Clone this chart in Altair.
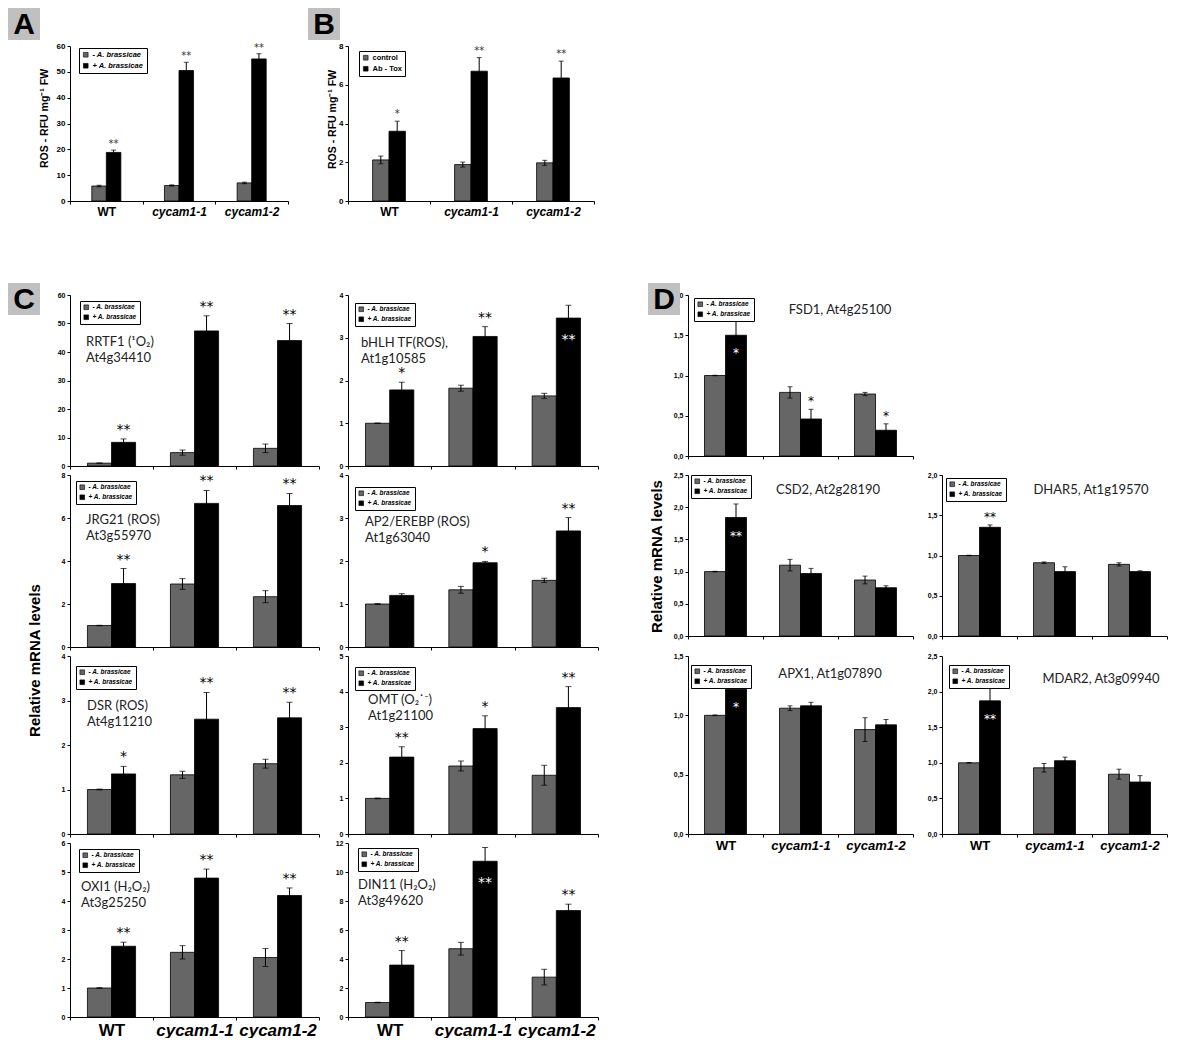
import altair as alt
import pandas as pd

CATS = ["WT", "cycam1-1", "cycam1-2"]
SER_AB = ["- A. brassicae", "+ A. brassicae"]
SER_TOX = ["control", "Ab - Tox"]

# ---------------- data (mean / error) ----------------
A_neg = [5.8, 6.0, 7.0]
A_neg_err = [0.3, 0.25, 0.3]
A_pos = [18.8, 50.5, 55.0]
A_pos_err = [0.9, 3.2, 2.0]
A_star = ["**", "**", "**"]
A_in = [0, 0, 0]

B_neg = [2.12, 1.88, 1.97]
B_neg_err = [0.2, 0.13, 0.13]
B_pos = [3.6, 6.7, 6.35]
B_pos_err = [0.52, 0.7, 0.87]
B_star = ["*", "**", "**"]
B_in = [0, 0, 0]

RRTF1_neg = [1.0, 4.7, 6.2]
RRTF1_neg_err = [0.03, 0.9, 1.5]
RRTF1_pos = [8.3, 47.4, 44.0]
RRTF1_pos_err = [1.2, 5.3, 6.0]
RRTF1_star = ["**", "**", "**"]
RRTF1_in = [0, 0, 0]

BHLH_neg = [1.0, 1.82, 1.64]
BHLH_neg_err = [0.005, 0.07, 0.06]
BHLH_pos = [1.78, 3.03, 3.46]
BHLH_pos_err = [0.18, 0.23, 0.3]
BHLH_star = ["*", "**", "**"]
BHLH_in = [0, 0, 1]

JRG21_neg = [1.0, 2.93, 2.34]
JRG21_neg_err = [0.01, 0.25, 0.28]
JRG21_pos = [2.95, 6.68, 6.58]
JRG21_pos_err = [0.7, 0.6, 0.56]
JRG21_star = ["**", "**", "**"]
JRG21_in = [0, 0, 0]

AP2_neg = [1.0, 1.33, 1.55]
AP2_neg_err = [0.01, 0.08, 0.05]
AP2_pos = [1.2, 1.96, 2.70]
AP2_pos_err = [0.04, 0.03, 0.31]
AP2_star = ["", "*", "**"]
AP2_in = [0, 0, 0]

DSR_neg = [1.0, 1.33, 1.58]
DSR_neg_err = [0.01, 0.08, 0.1]
DSR_pos = [1.35, 2.58, 2.61]
DSR_pos_err = [0.17, 0.6, 0.35]
DSR_star = ["*", "**", "**"]
DSR_in = [0, 0, 0]

OMT_neg = [1.0, 1.91, 1.65]
OMT_neg_err = [0.01, 0.14, 0.28]
OMT_pos = [2.16, 2.96, 3.55]
OMT_pos_err = [0.29, 0.36, 0.59]
OMT_star = ["**", "*", "**"]
OMT_in = [0, 0, 0]

OXI1_neg = [1.0, 2.23, 2.05]
OXI1_neg_err = [0.01, 0.23, 0.31]
OXI1_pos = [2.44, 4.79, 4.19]
OXI1_pos_err = [0.14, 0.31, 0.26]
OXI1_star = ["**", "**", "**"]
OXI1_in = [0, 0, 0]

DIN11_neg = [1.0, 4.71, 2.75]
DIN11_neg_err = [0.02, 0.44, 0.54]
DIN11_pos = [3.58, 10.74, 7.34]
DIN11_pos_err = [1.0, 0.95, 0.44]
DIN11_star = ["**", "**", "**"]
DIN11_in = [0, 1, 0]

FSD1_neg = [1.0, 0.79, 0.77]
FSD1_neg_err = [0.003, 0.07, 0.02]
FSD1_pos = [1.50, 0.46, 0.32]
FSD1_pos_err = [0.2, 0.12, 0.08]
FSD1_star = ["*", "*", "*"]
FSD1_in = [1, 0, 0]

CSD2_neg = [1.0, 1.10, 0.87]
CSD2_neg_err = [0.005, 0.09, 0.06]
CSD2_pos = [1.84, 0.97, 0.75]
CSD2_pos_err = [0.21, 0.08, 0.03]
CSD2_star = ["**", "", ""]
CSD2_in = [1, 0, 0]

DHAR5_neg = [1.0, 0.91, 0.89]
DHAR5_neg_err = [0.003, 0.01, 0.02]
DHAR5_pos = [1.35, 0.80, 0.80]
DHAR5_pos_err = [0.03, 0.06, 0.01]
DHAR5_star = ["**", "", ""]
DHAR5_in = [0, 0, 0]

APX1_neg = [1.0, 1.06, 0.88]
APX1_neg_err = [0.003, 0.02, 0.1]
APX1_pos = [1.22, 1.08, 0.92]
APX1_pos_err = [0.02, 0.03, 0.045]
APX1_star = ["*", "", ""]
APX1_in = [1, 0, 0]

MDAR2_neg = [1.0, 0.93, 0.84]
MDAR2_neg_err = [0.003, 0.06, 0.07]
MDAR2_pos = [1.87, 1.03, 0.73]
MDAR2_pos_err = [0.22, 0.05, 0.09]
MDAR2_star = ["**", "", ""]
MDAR2_in = [1, 0, 0]

GRAY = "#666666"
AXFONT = "Liberation Sans"
NOTEFONT = "Lato"


def frame(neg, neg_err, pos, pos_err, stars, inside, series):
    rows = []
    for i, c in enumerate(CATS):
        rows.append(dict(cat=c, series=series[0], v=neg[i], e=neg_err[i], star="", inside=0))
        rows.append(dict(cat=c, series=series[1], v=pos[i], e=pos_err[i], star=stars[i], inside=inside[i]))
    df = pd.DataFrame(rows)
    df["lo"] = df["v"] - df["e"]
    df["hi"] = df["v"] + df["e"]
    return df


def panel(df, series, *, w, h, ymax, ystep, ratio, leg_xy, leg_size=6.5, leg_style="italic",
          ylab_size=7, comma=False, xlab_size=None, note=None, note_xy=(0, 0), note_size=13,
          note_align="left", note_gap=16, star_size=14, star_gap=9, star_in_gap=22,
          star_color="black", ytitle=None, ytitle_xy=(0, 0), ytitle_size=15, cap=6, box=None):
    nsteps = int(round(ymax / ystep))
    ticks = [round(i * ystep, 3) for i in range(nsteps + 1)]
    band = w / 3.0
    off_range = [band * (1 - ratio) / 2, band * (1 + ratio) / 2]

    xaxis_kw = dict(title=None, tickBand="extent", tickSize=3, tickColor="black",
                    domainColor="black", labelAngle=0)
    if xlab_size:
        xaxis_kw.update(labels=True, labelFont=AXFONT, labelFontSize=xlab_size,
                        labelFontWeight="bold", labelColor="black", labelPadding=2,
                        labelFontStyle={"condition": {"test": "datum.value == 'WT'", "value": "normal"},
                                        "value": "italic"})
    else:
        xaxis_kw.update(labels=False)
    xscale = alt.Scale(domain=CATS, paddingInner=0, paddingOuter=0)
    xaxis = alt.Axis(**xaxis_kw)
    x = alt.X("cat:N", sort=CATS, scale=xscale, axis=xaxis)
    xo = alt.XOffset("series:N", sort=series,
                     scale=alt.Scale(domain=series, range=off_range, paddingOuter=0, paddingInner=0))

    yaxis_kw = dict(values=ticks, grid=False, tickSize=3, tickColor="black", domainColor="black",
                    labelFont=AXFONT, labelFontSize=ylab_size, labelFontWeight="bold",
                    labelColor="black", labelPadding=2, title=None)
    if comma:
        yaxis_kw["labelExpr"] = "replace(format(datum.value, '.1f'), '.', ',')"
    if ytitle:
        yaxis_kw.update(title=ytitle, titleFont=AXFONT, titleFontSize=ytitle_size,
                        titleFontWeight="bold", titleColor="black", titleAngle=270,
                        titleAlign="center", titleBaseline="middle",
                        titleX=ytitle_xy[0], titleY=ytitle_xy[1])
    yscale = alt.Scale(domain=[0, ymax], nice=False, zero=True)
    yaxis = alt.Axis(**yaxis_kw)

    def Y(field):
        return alt.Y(field, scale=yscale, axis=yaxis)

    base = alt.Chart(df)
    bars = base.mark_bar(stroke="black", strokeWidth=0.8).encode(
        x=x, xOffset=xo, y=Y("v:Q"),
        color=alt.Color("series:N", sort=series,
                        scale=alt.Scale(domain=series, range=[GRAY, "black"]),
                        legend=alt.Legend(orient="none", legendX=leg_xy[0], legendY=leg_xy[1],
                                          title=None, symbolType="square", symbolSize=22,
                                          symbolStrokeColor="black", symbolStrokeWidth=0.6,
                                          labelFont=AXFONT, labelFontSize=leg_size,
                                          labelFontStyle=leg_style, labelFontWeight="bold",
                                          labelColor="black", fillColor="white",
                                          strokeColor="black", padding=3, rowPadding=2,
                                          labelOffset=3, labelLimit=300)),
    )
    rule = base.mark_rule(color="black", strokeWidth=1).encode(
        x=x, xOffset=xo, y=Y("lo:Q"), y2="hi:Q")
    cap_hi = base.mark_tick(color="black", thickness=1, size=cap).encode(
        x=x, xOffset=xo, y=Y("hi:Q"))
    cap_lo = base.mark_tick(color="black", thickness=1, size=cap).encode(
        x=x, xOffset=xo, y=Y("lo:Q"))
    layers = [bars, rule, cap_hi, cap_lo]

    above = df[(df["star"] != "") & (df["inside"] == 0)]
    inner = df[(df["star"] != "") & (df["inside"] == 1)]
    if len(above):
        layers.append(alt.Chart(above).mark_text(
            font="DejaVu Sans", fontSize=star_size, color=star_color, baseline="middle",
            dy=-star_gap).encode(x=x, xOffset=xo, y=Y("hi:Q"), text="star:N"))
    if len(inner):
        layers.append(alt.Chart(inner).mark_text(
            font="DejaVu Sans", fontSize=star_size, color="white", baseline="middle",
            dy=star_in_gap).encode(x=x, xOffset=xo, y=Y("v:Q"), text="star:N"))
    one = pd.DataFrame({"k": [0]})
    if note:
        for i, line in enumerate(note):
            layers.append(alt.Chart(one).mark_text(
                font=NOTEFONT, fontSize=note_size, color="#222222", align=note_align,
                baseline="top").encode(
                x=alt.value(note_xy[0]), y=alt.value(note_xy[1] + i * note_gap),
                text=alt.value(line)))
    if box:
        letter, bx0, by0 = box
        layers.append(alt.Chart(one).mark_rect(fill="#c0c0c0").encode(
            x=alt.value(bx0), x2=alt.value(bx0 + 32), y=alt.value(by0), y2=alt.value(by0 + 32)))
        layers.append(alt.Chart(one).mark_text(
            font=AXFONT, fontSize=30, fontWeight="bold", color="black",
            align="center", baseline="middle").encode(
            x=alt.value(bx0 + 16), y=alt.value(by0 + 17), text=alt.value(letter)))
    return alt.layer(*layers).properties(width=w, height=h)


def spacer(w, h):
    return alt.Chart(pd.DataFrame({"a": [0]})).mark_point(opacity=0).encode(
        x=alt.X("a:Q", axis=None), y=alt.Y("a:Q", axis=None)).properties(width=w, height=h)


ROS_TITLE = "ROS - RFU mg\u207b\u00b9 FW"
REL = "Relative mRNA levels"

pA = panel(frame(A_neg, A_neg_err, A_pos, A_pos_err, A_star, A_in, SER_AB), SER_AB,
           w=218, h=155, ymax=60, ystep=10, ratio=0.4, leg_xy=(9, 2), leg_size=7.5,
           ylab_size=8, xlab_size=12, star_size=10, star_gap=6, star_color="#333333", cap=5,
           ytitle=ROS_TITLE, ytitle_xy=(-26, 72), ytitle_size=10.5, box=("A", -62, -38))
pB = panel(frame(B_neg, B_neg_err, B_pos, B_pos_err, B_star, B_in, SER_TOX), SER_TOX,
           w=246, h=155, ymax=8, ystep=2, ratio=0.4, leg_xy=(11, 5), leg_size=7.5,
           leg_style="normal", ylab_size=8, xlab_size=12, star_size=10, star_gap=7,
           star_color="#333333", cap=5,
           ytitle=ROS_TITLE, ytitle_xy=(-16, 73), ytitle_size=10.5, box=("B", -40, -38))

CW_L, CW_R = 249, 250
pRRTF1 = panel(frame(RRTF1_neg, RRTF1_neg_err, RRTF1_pos, RRTF1_pos_err, RRTF1_star, RRTF1_in, SER_AB),
               SER_AB, w=CW_L, h=171, ymax=60, ystep=10, ratio=0.58, leg_xy=(10, 6),
               note=["RRTF1 (\u00b9O\u2082)", "At4g34410"], note_xy=(16, 41),
               box=("C", -62, -12))
pBHLH = panel(frame(BHLH_neg, BHLH_neg_err, BHLH_pos, BHLH_pos_err, BHLH_star, BHLH_in, SER_AB),
              SER_AB, w=CW_R, h=171, ymax=4, ystep=1, ratio=0.58, leg_xy=(7, 8),
              note=["bHLH TF(ROS),", "At1g10585"], note_xy=(13, 42))
pJRG21 = panel(frame(JRG21_neg, JRG21_neg_err, JRG21_pos, JRG21_pos_err, JRG21_star, JRG21_in, SER_AB),
               SER_AB, w=CW_L, h=172, ymax=8, ystep=2, ratio=0.58, leg_xy=(6, 6),
               note=["JRG21 (ROS)", "At3g55970"], note_xy=(16, 39))
pAP2 = panel(frame(AP2_neg, AP2_neg_err, AP2_pos, AP2_pos_err, AP2_star, AP2_in, SER_AB),
             SER_AB, w=CW_R, h=172, ymax=4, ystep=1, ratio=0.58, leg_xy=(7, 12),
             note=["AP2/EREBP (ROS)", "At1g63040"], note_xy=(17, 41))
pDSR = panel(frame(DSR_neg, DSR_neg_err, DSR_pos, DSR_pos_err, DSR_star, DSR_in, SER_AB),
             SER_AB, w=CW_L, h=178, ymax=4, ystep=1, ratio=0.58, leg_xy=(6, 10),
             note=["DSR (ROS)", "At4g11210"], note_xy=(17, 44),
             ytitle=REL, ytitle_xy=(-36, 4))
pOMT = panel(frame(OMT_neg, OMT_neg_err, OMT_pos, OMT_pos_err, OMT_star, OMT_in, SER_AB),
             SER_AB, w=CW_R, h=178, ymax=5, ystep=1, ratio=0.58, leg_xy=(7, 11),
             note=["OMT (O\u2082\u02d9\u207b)", "At1g21100"], note_xy=(20, 38))
pOXI1 = panel(frame(OXI1_neg, OXI1_neg_err, OXI1_pos, OXI1_pos_err, OXI1_star, OXI1_in, SER_AB),
              SER_AB, w=CW_L, h=174, ymax=6, ystep=1, ratio=0.58, leg_xy=(9, 6), xlab_size=17,
              note=["OXI1 (H\u2082O\u2082)", "At3g25250"], note_xy=(11, 38))
pDIN11 = panel(frame(DIN11_neg, DIN11_neg_err, DIN11_pos, DIN11_pos_err, DIN11_star, DIN11_in, SER_AB),
               SER_AB, w=CW_R, h=174, ymax=12, ystep=2, ratio=0.58, leg_xy=(10, 5), xlab_size=17,
               note=["DIN11 (H\u2082O\u2082)", "At3g49620"], note_xy=(10, 36))

DW = 225
dkw = dict(ratio=0.56, comma=True, star_size=12, star_gap=8, star_in_gap=18, cap=5,
           note_align="center", note_size=13)
pFSD1 = panel(frame(FSD1_neg, FSD1_neg_err, FSD1_pos, FSD1_pos_err, FSD1_star, FSD1_in, SER_AB),
              SER_AB, w=DW, h=161, ymax=2.0, ystep=0.5, leg_xy=(6, 3),
              note=["FSD1, At4g25100"], note_xy=(152, 9), box=("D", -40, -12), **dkw)
pCSD2 = panel(frame(CSD2_neg, CSD2_neg_err, CSD2_pos, CSD2_pos_err, CSD2_star, CSD2_in, SER_AB),
              SER_AB, w=DW, h=161, ymax=2.5, ystep=0.5, leg_xy=(3, 0),
              note=["CSD2, At2g28190"], note_xy=(140, 9),
              ytitle=REL, ytitle_xy=(-32, 81), **dkw)
pDHAR5 = panel(frame(DHAR5_neg, DHAR5_neg_err, DHAR5_pos, DHAR5_pos_err, DHAR5_star, DHAR5_in, SER_AB),
               SER_AB, w=DW, h=161, ymax=2.0, ystep=0.5, leg_xy=(4, 3),
               note=["DHAR5, At1g19570"], note_xy=(149, 9), **dkw)
pAPX1 = panel(frame(APX1_neg, APX1_neg_err, APX1_pos, APX1_pos_err, APX1_star, APX1_in, SER_AB),
              SER_AB, w=DW, h=178, ymax=1.5, ystep=0.5, leg_xy=(3, 9), xlab_size=13,
              note=["APX1, At1g07890"], note_xy=(142, 12), **dkw)
pMDAR2 = panel(frame(MDAR2_neg, MDAR2_neg_err, MDAR2_pos, MDAR2_pos_err, MDAR2_star, MDAR2_in, SER_AB),
               SER_AB, w=DW, h=178, ymax=2.5, ystep=0.5, leg_xy=(7, 9), xlab_size=13,
               note=["MDAR2, At3g09940"], note_xy=(159, 17), **dkw)

GAPW = 32
cells = [
    pA, pB, spacer(GAPW, 1), spacer(DW, 1), spacer(DW, 1),
    spacer(1, 76), spacer(1, 1), spacer(1, 1), spacer(1, 1), spacer(1, 1),
    pRRTF1, pBHLH, spacer(GAPW, 1), pFSD1, spacer(1, 1),
    pJRG21, pAP2, spacer(GAPW, 1), pCSD2, pDHAR5,
    pDSR, pOMT, spacer(GAPW, 1), pAPX1, pMDAR2,
    pOXI1, pDIN11, spacer(GAPW, 1), spacer(1, 1), spacer(1, 1),
]

chart = alt.concat(*cells, columns=5, spacing={"row": 9, "column": 29},
                   bounds="flush", align="each").resolve_scale(
    x="independent", y="independent", xOffset="independent", color="independent"
).properties(padding=0, background="white").configure_view(stroke=None)

chart.save("out.html", embed_options={"renderer": "svg", "actions": False})
